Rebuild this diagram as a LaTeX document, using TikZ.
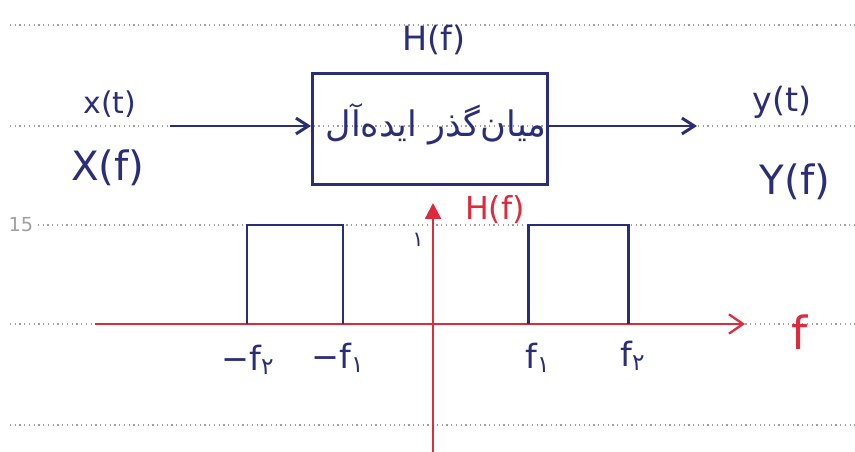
\documentclass[tikz,border=0pt]{standalone}
\usepackage{fontspec}
\setmainfont{DejaVu Sans}
\newfontfamily\persianfont[Script=Arabic]{DejaVu Sans}
\TeXXeTstate=1
\usetikzlibrary{arrows.meta,positioning}
\definecolor{InkBlue}{HTML}{2A2E78}
\definecolor{InkRed}{HTML}{DD2A3C}
\definecolor{RuleGray}{HTML}{A0A0A0}

\begin{document}
\begin{tikzpicture}[x=0.02cm, y=-0.02cm,
  ruled/.style={RuleGray, dotted, line width=0.7pt},
  ink/.style={InkBlue, line width=1.7pt},
  redink/.style={InkRed, line width=1.3pt},
  blab/.style={text=InkBlue, inner sep=1pt, font=\fontsize{#1}{#1}\selectfont},
  rlab/.style={text=InkRed, inner sep=1pt, font=\fontsize{#1}{#1}\selectfont},
  filterbox/.style={draw=InkBlue, line width=1.7pt, minimum width=4.7cm, minimum height=2.24cm}
]
  \useasboundingbox (0,0) rectangle (855,452);

  % Ruled notebook lines
  \foreach \yy in {25,126,324,425}
    \draw[ruled] (10,\yy) -- (855,\yy);
  \draw[ruled] (38,225) -- (855,225);
  \node[text=RuleGray, font=\fontsize{11}{11}\selectfont, inner sep=0pt] (rule15) at (21,225) {15};

  % Filter block
  \node[filterbox] (box) at (430,129) {};
  \node[blab=20] (boxtext) at (436,124) {\persianfont\beginR میان‌گذر ایده‌آل\endR};
  \node[blab=19] (hf) at (434,40) {H(f)};

  % Input and output
  \coordinate (in) at (170,126);
  \coordinate (out) at (697,126);
  \draw[ink, -{Straight Barb[length=7pt, width=9pt]}] (in) -- (box.west |- in);
  \draw[ink, -{Straight Barb[length=7pt, width=9pt]}] (box.east |- out) -- (out);
  \node[blab=17] (xt) at (110,104) {x(t)};
  \node[blab=23] (xf) at (108,168) {X(f)};
  \node[blab=19] (yt) at (782,102) {y(t)};
  \node[blab=23] (yf) at (795,182) {Y(f)};

  % Axes
  \coordinate (origin) at (433,324);
  \coordinate (fleft) at (95,324);
  \coordinate (fright) at (745,324);
  \coordinate (hbot) at (433,452);
  \coordinate (htop) at (433,203);
  \draw[redink, -{Straight Barb[length=8pt, width=11pt]}] (fleft) -- (fright);
  \draw[redink, -{Triangle[length=9pt, width=9pt]}] (hbot) -- (htop);
  \node[rlab=26] (flab) at (800,332) {f};
  \node[rlab=18] (hflab) at (495,210) {H(f)};
  \node[blab=12] (one) at (418,240) {\persianfont ۱};

  % Pass bands
  \draw[ink] (247,324) -- (247,225) -- (343,225) -- (343,324);
  \draw[ink] (528,324) -- (528,225) -- (628,225) -- (628,324);

  % Band edges
  \node[blab=19] (mf2) at (248,360) {−f\textsubscript{\persianfont ۲}};
  \node[blab=19] (mf1) at (338,358) {−f\textsubscript{\persianfont ۱}};
  \node[blab=19] (f1) at (538,358) {f\textsubscript{\persianfont ۱}};
  \node[blab=19] (f2) at (633,356) {f\textsubscript{\persianfont ۲}};
\end{tikzpicture}
\end{document}
